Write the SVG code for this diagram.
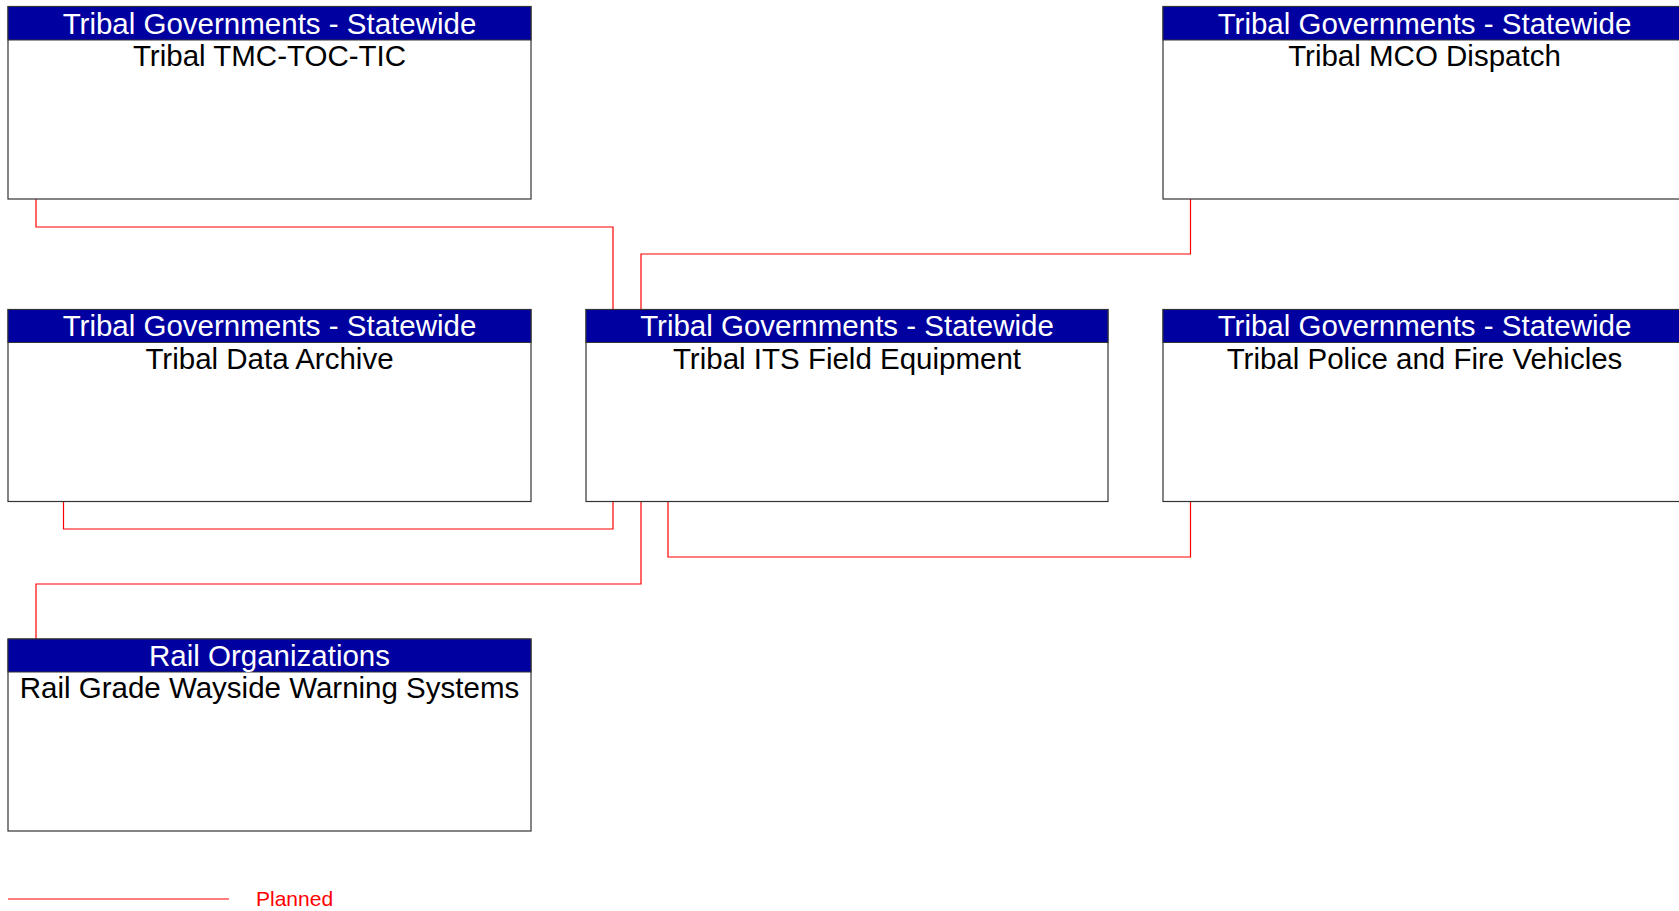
<svg xmlns="http://www.w3.org/2000/svg" width="1679" height="911" viewBox="0 0 1679 911">
<style>
.box{fill:#ffffff;stroke:#333333;stroke-width:1.2}
.hdr{fill:#0000A0;stroke:#333333;stroke-width:1}
.ht{font-family:"Liberation Sans",Arial,sans-serif;font-size:29.5px;fill:#ffffff;text-anchor:middle}
.bt{font-family:"Liberation Sans",Arial,sans-serif;font-size:29.5px;fill:#000000;text-anchor:middle}
.conn{fill:none;stroke:#ff0000;stroke-width:1.2}
.leg{font-family:"Liberation Sans",Arial,sans-serif;font-size:21px;fill:#ff0000}
</style>
<rect width="1679" height="911" fill="#ffffff"/>
<g id="connectors">
<path class="conn" d="M36,199 V227 H613 V309"/>
<path class="conn" d="M1190.5,199 V254 H641 V309"/>
<path class="conn" d="M63.5,501 V529 H613 V501"/>
<path class="conn" d="M641,501 V584 H36 V639"/>
<path class="conn" d="M668,501 V557 H1190.5 V501"/>
</g>
<g id="tmc">
<rect class="box" x="8" y="6.5" width="523" height="192.5"/>
<rect class="hdr" x="8" y="6.5" width="523" height="33.5"/>
<text class="ht" x="269.5" y="33.5">Tribal Governments - Statewide</text>
<text class="bt" x="269.5" y="66">Tribal TMC-TOC-TIC</text>
</g>
<g id="mco">
<rect class="box" x="1163" y="6.5" width="523" height="192.5"/>
<rect class="hdr" x="1163" y="6.5" width="523" height="33.5"/>
<text class="ht" x="1424.5" y="33.5">Tribal Governments - Statewide</text>
<text class="bt" x="1424.5" y="66">Tribal MCO Dispatch</text>
</g>
<g id="archive">
<rect class="box" x="8" y="309.5" width="523" height="192"/>
<rect class="hdr" x="8" y="309.5" width="523" height="33"/>
<text class="ht" x="269.5" y="336">Tribal Governments - Statewide</text>
<text class="bt" x="269.5" y="368.5">Tribal Data Archive</text>
</g>
<g id="its">
<rect class="box" x="586" y="309.5" width="522" height="192"/>
<rect class="hdr" x="586" y="309.5" width="522" height="33"/>
<text class="ht" x="847" y="336">Tribal Governments - Statewide</text>
<text class="bt" x="847" y="368.5">Tribal ITS Field Equipment</text>
</g>
<g id="police">
<rect class="box" x="1163" y="309.5" width="523" height="192"/>
<rect class="hdr" x="1163" y="309.5" width="523" height="33"/>
<text class="ht" x="1424.5" y="336">Tribal Governments - Statewide</text>
<text class="bt" x="1424.5" y="368.5">Tribal Police and Fire Vehicles</text>
</g>
<g id="rail">
<rect class="box" x="8" y="639" width="523" height="192"/>
<rect class="hdr" x="8" y="639" width="523" height="33"/>
<text class="ht" x="269.5" y="665.5">Rail Organizations</text>
<text class="bt" x="269.5" y="698">Rail Grade Wayside Warning Systems</text>
</g>
<g id="legend">
<line class="conn" x1="8" y1="899" x2="229" y2="899"/>
<text class="leg" x="256" y="906">Planned</text>
</g>
</svg>
